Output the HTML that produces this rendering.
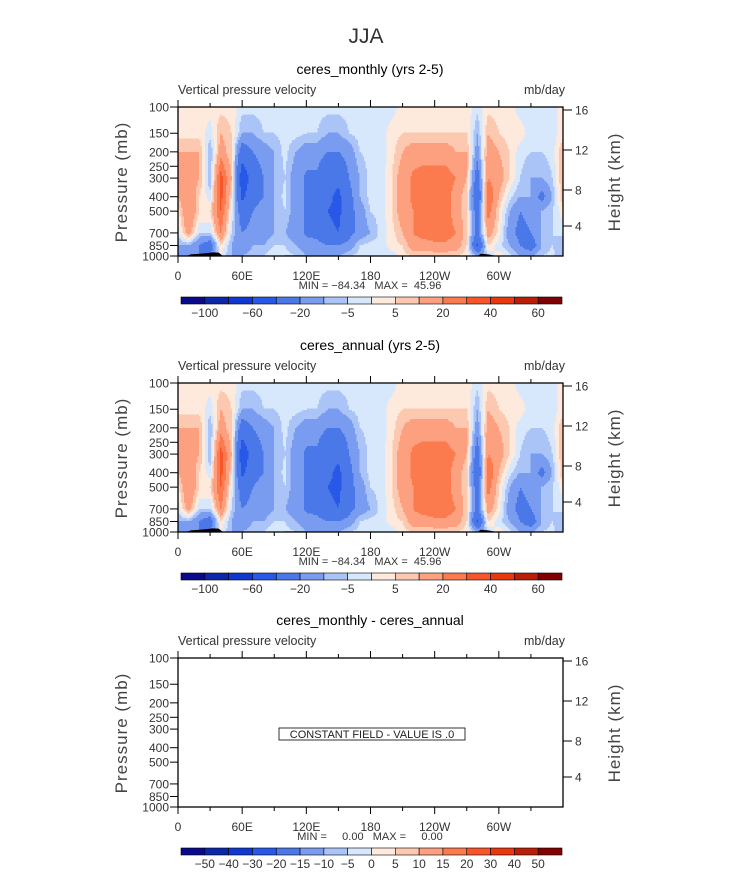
<!DOCTYPE html>
<html><head><meta charset="utf-8"><style>
body{margin:0;background:#fff}
svg text{font-family:"Liberation Sans",sans-serif;white-space:pre}
</style></head><body>
<svg id="svg" width="733" height="872" viewBox="0 0 733 872" xmlns="http://www.w3.org/2000/svg">
<defs>
<clipPath id="clipA"><rect x="178" y="107" width="385" height="149"/></clipPath>
<clipPath id="clipB"><rect x="178" y="383" width="385" height="149"/></clipPath>
</defs>
<text x="366" y="43" font-size="21" text-anchor="middle" fill="#333" font-weight="300">JJA</text>
</svg>
<script>
const levels=[-100,-80,-60,-40,-20,-10,-5,0,5,10,20,30,40,50,60];
const colors=["#0a0a8c","#0a28a8","#1038d0","#2858e8","#4a78e8","#7a9cf0","#aac4f8","#d8e8fc","#feeadc","#fcc8b0","#fca080","#fb7a4e","#f8552a","#e8380e","#bb1e06","#820000"];
const diffLabels=["-50","-40","-30","-20","-15","-10","-5","0","5","10","15","20","30","40","50"];
const mainLabels=["-100","","-60","","-20","","-5","","5","","20","","40","","60"];
const pressures=[100,150,200,300,400,500,700,850,1000];
const lons=[0,10,20,30,40,50,60,70,80,90,100,110,120,130,140,150,160,170,180,190,200,210,220,230,240,250,260,270,280,290,300,310,320,330,340,350,360];
const omega=[
[3,3,10,10,10,3,-3,-10,-10],
[3,3,10,15,20,20,15,-10,-20],
[3,3,10,10,5,5,-5,-20,-20],
[3,-3,-10,-10,-3,5,-5,-30,-20],
[3,10,15,35,35,30,20,5,0],
[3,5,5,10,5,0,-5,-10,-10],
[-3,-10,-30,-55,-45,-30,-20,-20,-10],
[-3,-10,-20,-30,-25,-20,-15,-10,-5],
[-3,-5,-15,-20,-20,-15,-15,-10,-5],
[-3,-5,-10,-10,-10,-10,-10,-5,0],
[-3,-3,-3,-5,-3,-5,-10,-5,-3],
[-3,-3,-10,-15,-15,-15,-15,-10,-5],
[-3,-5,-15,-22,-22,-22,-22,-15,-10],
[-3,-5,-15,-22,-25,-25,-25,-15,-10],
[-3,-10,-20,-35,-35,-40,-35,-20,-10],
[-3,-10,-20,-35,-45,-45,-40,-20,-10],
[-3,-5,-15,-20,-25,-25,-25,-15,-5],
[-3,-3,-5,-10,-10,-15,-15,-5,-3],
[-3,-3,-3,-3,-3,-5,-10,-3,-3],
[-3,-3,-3,-3,-3,-3,-3,-3,-3],
[-3,3,3,5,5,5,3,3,-3],
[3,5,10,15,15,15,10,5,3],
[3,5,15,22,22,20,20,15,5],
[3,5,15,25,25,25,25,15,5],
[3,5,15,25,25,25,25,18,5],
[3,5,15,25,25,25,25,18,5],
[3,5,10,20,15,15,20,15,5],
[3,5,10,10,5,5,5,5,3],
[-3,-10,-15,-30,-40,-30,-25,-45,-10],
[3,10,15,20,30,25,15,5,-5],
[3,5,10,15,10,5,3,-3,3],
[3,3,5,5,-3,-10,-15,-10,-3],
[-3,3,-3,-5,-10,-20,-25,-20,-10],
[-3,-3,-5,-10,-10,-15,-20,-30,-10],
[-3,-3,-5,-10,-25,-10,-10,-10,-5],
[-3,-3,-3,-5,-10,-5,-5,-5,-3],
[3,3,10,10,10,3,-3,-10,-10]];
const topoLon=[8,12,20,28,32,38,42,95,100,120,125,280,283,290,295,300];
const topoP=[1000,975,965,955,945,950,1000,1000,990,990,1000,1000,965,975,990,1000];
const xLabels=["0","60E","120E","180","120W","60W"];
const yTicks=[100,150,200,250,300,400,500,700,850,1000];
const hTicks=[16,12,8,4];
const hY=[3,43,83,119];

const NS="http://www.w3.org/2000/svg";
const svg=document.getElementById('svg');
const X0=178,W=385,H=149;
function xs(lon){return X0+lon/360*W;}
function ys(p,top){return top+Math.log10(p/100)*H;}
function mk(tag,attrs,parent){const e=document.createElementNS(NS,tag);for(const k in attrs)e.setAttribute(k,attrs[k]);(parent||svg).appendChild(e);return e;}
function bin(v){let i=0;while(i<levels.length&&v>=levels[i])i++;return i;}
const lps=pressures.map(p=>Math.log10(p));
function val(lon,lp){
  lon=Math.max(0,Math.min(359.99,lon));
  let i=Math.min(Math.floor(lon/10),35);let fx=(lon-lons[i])/10;
  let j=0;while(j<lps.length-2&&lp>lps[j+1])j++;
  let fy=(lp-lps[j])/(lps[j+1]-lps[j]);fy=Math.max(0,Math.min(1,fy));
  const a=omega[i][j]*(1-fx)+omega[i+1][j]*fx, b=omega[i][j+1]*(1-fx)+omega[i+1][j+1]*fx;
  return a*(1-fy)+b*fy;
}
function txt(s,x,y,size,anchor,name,extra){const t=mk('text',Object.assign({x:x,y:y,'font-size':size,'text-anchor':anchor,fill:'#222'},extra||{}));t.textContent=s;return t;}

function panel(top,title,filled,clipId,minmax,cbLabels){
  const g=mk('g',{});
  
  
  txt(title,370,top-33,14,'middle','panel-title',{fill:'#000'});
  txt('Vertical pressure velocity',178,top-13,12.5,'start','variable-label',{fill:'#333'});
  txt('mb/day',565,top-13,12.5,'end','units-label',{fill:'#333'});
  if(filled){
    const fg=mk('g',{'clip-path':'url(#'+clipId+')'},g);
    
    
    const step=1.5;
    for(let py=top;py<top+H;py+=step){
      const lp=2+((py+step/2)-top)/H;
      let runStart=X0,runBin=-1;
      for(let px=X0;;px+=step){
        const end=px>=X0+W;
        const b=end?-2:bin(val(((px+step/2)-X0)/W*360,lp));
        if(b!==runBin){
          if(runBin>=0){const r=mk('rect',{x:runStart,y:py,width:px-runStart+0.5,height:step+0.5,fill:colors[runBin]},fg);
            
            }
          runStart=px;runBin=b;
        }
        if(end)break;
      }
    }
    const pts=topoLon.map((l,i)=>xs(l)+','+ys(topoP[i],top)).join(' ');
    const tp=mk('polygon',{points:pts,fill:'#000'},fg);
    
    
  }
  const bx=mk('rect',{x:X0,y:top,width:W,height:H,fill:'none',stroke:'#000','stroke-width':1.3},g);
  
  
  for(let l=0;l<=330;l+=30){
    const major=l%60===0,len=major?7:4;
    mk('line',{x1:xs(l),x2:xs(l),y1:top,y2:top-len,stroke:'#000','stroke-width':1},g);
    mk('line',{x1:xs(l),x2:xs(l),y1:top+H,y2:top+H+len,stroke:'#000','stroke-width':1},g);
    if(major)txt(xLabels[l/60],xs(l),top+H+24,12,'middle','x-tick-label',{fill:'#333'});
  }
  yTicks.forEach(p=>{mk('line',{x1:X0,x2:X0-8,y1:ys(p,top),y2:ys(p,top),stroke:'#000','stroke-width':1},g);
    txt(String(p),169,ys(p,top)+4.5,12,'end','y-tick-label',{fill:'#333'});});
  hTicks.forEach((h,i)=>{mk('line',{x1:X0+W,x2:X0+W+9,y1:top+hY[i],y2:top+hY[i],stroke:'#000','stroke-width':1},g);
    txt(String(h),575,top+hY[i]+4.5,12,'start','height-tick-label',{fill:'#333'});});
  txt('Pressure (mb)',0,0,17,'middle','y-axis-title',{fill:'#444',transform:'translate(127,'+(top+75)+') rotate(-90)','letter-spacing':'1'});
  txt('Height (km)',0,0,17,'middle','right-axis-title',{fill:'#444',transform:'translate(620,'+(top+75)+') rotate(-90)','letter-spacing':'1'});
  txt(minmax,370,top+H+33,11,'middle','min-max-label',{fill:'#333'});
  const cbTop=top+190,bw=381/16;
  for(let i=0;i<16;i++){const r=mk('rect',{x:181+i*bw,y:cbTop,width:bw,height:7,fill:colors[i],stroke:'#000','stroke-width':0.6},g);
    
    }
  cbLabels.forEach((s,i)=>{if(s)txt(s.replace('-','\u2212'),181+(i+1)*bw,cbTop+20,12,'middle','colorbar-label',{fill:'#333'});});
}
panel(107,'ceres_monthly (yrs 2-5)',true,'clipA','MIN = \u221284.34   MAX =  45.96',mainLabels);
panel(383,'ceres_annual (yrs 2-5)',true,'clipB','MIN = \u221284.34   MAX =  45.96',mainLabels);
panel(658,'ceres_monthly - ceres_annual',false,'','MIN =     0.00   MAX =     0.00',diffLabels);
const cb=mk('rect',{x:279,y:728,width:186,height:12,fill:'#fff',stroke:'#000','stroke-width':0.8});


txt('CONSTANT FIELD - VALUE IS .0',372,738,11,'middle','constant-field-label',{fill:'#222'});
</script>
</body></html>
